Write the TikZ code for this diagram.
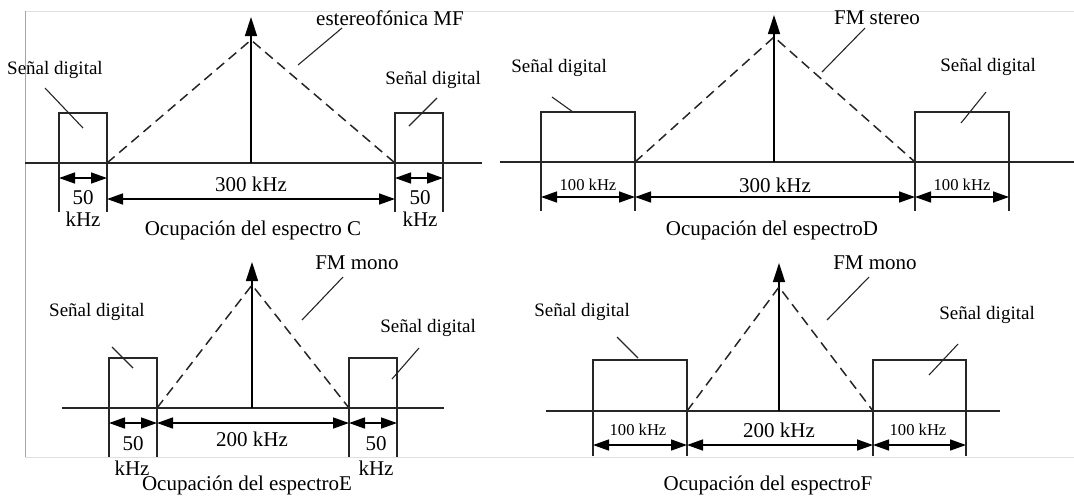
\documentclass[tikz,border=0pt]{standalone}
\usepackage{fontspec}
\setmainfont{Liberation Serif}
\usepackage{tikz}
\usetikzlibrary{arrows.meta,calc}

\tikzset{
  axisline/.style={line width=0.75pt, black!85},
  band/.style={line width=0.75pt, black!85},
  fmline/.style={line width=0.75pt, black!85, dash pattern=on 5pt off 3pt},
  dimarrow/.style={line width=0.75pt, {Triangle[length=8pt,width=5.5pt]}-{Triangle[length=8pt,width=5.5pt]}},
  uparrow/.style={line width=0.75pt, -{Triangle[length=9.5pt,width=6pt]}},
  lead/.style={line width=0.55pt, black!85},
  lbl/.style={font=\fontsize{10.5}{12}\selectfont, inner sep=0pt},
  siglbl/.style={font=\fontsize{9.5}{11}\selectfont, inner sep=0pt},
  smalllbl/.style={font=\fontsize{8.3}{10}\selectfont, inner sep=0pt},
  frameline/.style={line width=0.5pt},
}

\begin{document}
\begin{tikzpicture}[x=0.5pt,y=-0.5pt]
  \useasboundingbox (0,0) rectangle (1074,495);

  % faint frame of the scan
  \coordinate (F0) at (25,11);
  \coordinate (F1) at (1074,11);
  \coordinate (F2) at (25,457);
  \coordinate (F3) at (1074,457);
  \draw[frameline,gray!25] (F0) -- (F1);
  \draw[frameline,gray!25] (F2) -- (F3);
  \draw[frameline,gray!70] (F0) -- (F2);

  % espectro C
  \coordinate (C0) at (25,163);
  \coordinate (C1) at (482,163);
  \coordinate (Ca) at (59,163);
  \coordinate (Cb) at (107,163);
  \coordinate (Cc) at (395,163);
  \coordinate (Cd) at (443,163);
  \coordinate (Cm) at (251,163);
  \coordinate (Cpk) at (251,40);
  \coordinate (Ctip) at (251,17);
  \draw[axisline] (C0) -- (C1);
  \draw[band] (Ca |- 0,212) |- (Cb |- 0,113) -- (Cb |- 0,212);
  \draw[band] (Cc |- 0,212) |- (Cd |- 0,113) -- (Cd |- 0,212);
  \draw[uparrow] (Cm) -- (Ctip);
  \draw[fmline] (Cb) -- (Cpk) -- (Cc);
  \draw[dimarrow] (Ca |- 0,178) -- (Cb |- 0,178);
  \draw[dimarrow] (Cb |- 0,199) -- (Cc |- 0,199);
  \draw[dimarrow] (Cc |- 0,178) -- (Cd |- 0,178);
  \node[lbl] (C300) at (251,184) {300 kHz};
  \node[lbl] (C50a) at (83,198) {50};
  \node[lbl] (Ckza) at (83,219) {kHz};
  \node[lbl] (C50b) at (420,198) {50};
  \node[lbl] (Ckzb) at (420,219) {kHz};
  \node[lbl] (Ccap) at (253,230) {Ocupación del espectro C};
  \node[siglbl] (Csl) at (55,70) {Señal digital};
  \node[siglbl] (Csr) at (433,80) {Señal digital};
  \node[lbl] (Cfm) at (390,18) {estereofónica MF};
  \coordinate (Csl1) at (45,88);   \coordinate (Csl2) at (83,128);
  \coordinate (Csr1) at (437,98);  \coordinate (Csr2) at (409,126);
  \coordinate (Cfm1) at (342,28);  \coordinate (Cfm2) at (298,65);
  \draw[lead] (Csl1) -- (Csl2);
  \draw[lead] (Csr1) -- (Csr2);
  \draw[lead] (Cfm1) -- (Cfm2);

  % espectro D
  \coordinate (D0) at (500,162);
  \coordinate (D1) at (1074,162);
  \coordinate (Da) at (541,162);
  \coordinate (Db) at (635,162);
  \coordinate (Dc) at (915,162);
  \coordinate (Dd) at (1009,162);
  \coordinate (Dm) at (774,162);
  \coordinate (Dpk) at (774,37);
  \coordinate (Dtip) at (774,15);
  \draw[axisline] (D0) -- (D1);
  \draw[band] (Da |- 0,211) |- (Db |- 0,112) -- (Db |- 0,211);
  \draw[band] (Dc |- 0,211) |- (Dd |- 0,112) -- (Dd |- 0,211);
  \draw[uparrow] (Dm) -- (Dtip);
  \draw[fmline] (Db) -- (Dpk) -- (Dc);
  \draw[dimarrow] (Da |- 0,197) -- (Db |- 0,197);
  \draw[dimarrow] (Db |- 0,197) -- (Dc |- 0,197);
  \draw[dimarrow] (Dc |- 0,197) -- (Dd |- 0,197);
  \node[smalllbl] (D100a) at (588,185) {100 kHz};
  \node[lbl] (D300) at (775,185) {300 kHz};
  \node[smalllbl] (D100b) at (962,185) {100 kHz};
  \node[lbl] (Dcap) at (772,230) {Ocupación del espectroD};
  \node[siglbl] (Dsl) at (559,68) {Señal digital};
  \node[siglbl] (Dsr) at (988,67) {Señal digital};
  \node[lbl] (Dfm) at (877,18) {FM stereo};
  \coordinate (Dsl1) at (552,97);  \coordinate (Dsl2) at (573,112);
  \coordinate (Dsr1) at (986,92);  \coordinate (Dsr2) at (961,123);
  \coordinate (Dfm1) at (865,28);  \coordinate (Dfm2) at (822,72);
  \draw[lead] (Dsl1) -- (Dsl2);
  \draw[lead] (Dsr1) -- (Dsr2);
  \draw[lead] (Dfm1) -- (Dfm2);

  % espectro E
  \coordinate (E0) at (62,408);
  \coordinate (E1) at (444,408);
  \coordinate (Ea) at (109,408);
  \coordinate (Eb) at (157,408);
  \coordinate (Ec) at (349,408);
  \coordinate (Ed) at (397,408);
  \coordinate (Em) at (252,408);
  \coordinate (Epk) at (252,285);
  \coordinate (Etip) at (252,262);
  \draw[axisline] (E0) -- (E1);
  \draw[band] (Ea |- 0,457) |- (Eb |- 0,358) -- (Eb |- 0,457);
  \draw[band] (Ec |- 0,457) |- (Ed |- 0,358) -- (Ed |- 0,457);
  \draw[uparrow] (Em) -- (Etip);
  \draw[fmline] (Eb) -- (Epk) -- (Ec);
  \draw[dimarrow] (Ea |- 0,423) -- (Eb |- 0,423);
  \draw[dimarrow] (Eb |- 0,423) -- (Ec |- 0,423);
  \draw[dimarrow] (Ec |- 0,423) -- (Ed |- 0,423);
  \node[lbl] (E200) at (252,439) {200 kHz};
  \node[lbl] (E50a) at (133,444) {50};
  \node[lbl] (Ekza) at (132,468) {kHz};
  \node[lbl] (E50b) at (376,444) {50};
  \node[lbl] (Ekzb) at (376,468) {kHz};
  \node[lbl] (Ecap) at (247,485) {Ocupación del espectroE};
  \node[siglbl] (Esl) at (97,312) {Señal digital};
  \node[siglbl] (Esr) at (428,328) {Señal digital};
  \node[lbl] (Efm) at (357,263) {FM mono};
  \coordinate (Esl1) at (112,347); \coordinate (Esl2) at (133,368);
  \coordinate (Esr1) at (419,348); \coordinate (Esr2) at (392,379);
  \coordinate (Efm1) at (343,277); \coordinate (Efm2) at (302,320);
  \draw[lead] (Esl1) -- (Esl2);
  \draw[lead] (Esr1) -- (Esr2);
  \draw[lead] (Efm1) -- (Efm2);

  % espectro F
  \coordinate (G0) at (546,411);
  \coordinate (G1) at (1000,411);
  \coordinate (Ga) at (593,411);
  \coordinate (Gb) at (687,411);
  \coordinate (Gc) at (873,411);
  \coordinate (Gd) at (966,411);
  \coordinate (Gm) at (779,411);
  \coordinate (Gpk) at (779,287);
  \coordinate (Gtip) at (779,263);
  \draw[axisline] (G0) -- (G1);
  \draw[band] (Ga |- 0,456) |- (Gb |- 0,360) -- (Gb |- 0,456);
  \draw[band] (Gc |- 0,456) |- (Gd |- 0,360) -- (Gd |- 0,456);
  \draw[uparrow] (Gm) -- (Gtip);
  \draw[fmline] (Gb) -- (Gpk) -- (Gc);
  \draw[dimarrow] (Ga |- 0,445) -- (Gb |- 0,445);
  \draw[dimarrow] (Gb |- 0,445) -- (Gc |- 0,445);
  \draw[dimarrow] (Gc |- 0,445) -- (Gd |- 0,445);
  \node[smalllbl] (G100a) at (638,430) {100 kHz};
  \node[lbl] (G200) at (779,430) {200 kHz};
  \node[smalllbl] (G100b) at (918,430) {100 kHz};
  \node[lbl] (Gcap) at (768,485) {Ocupación del espectroF};
  \node[siglbl] (Gsl) at (582,312) {Señal digital};
  \node[siglbl] (Gsr) at (987,315) {Señal digital};
  \node[lbl] (Gfm) at (875,263) {FM mono};
  \coordinate (Gsl1) at (617,337); \coordinate (Gsl2) at (638,358);
  \coordinate (Gsr1) at (958,344); \coordinate (Gsr2) at (929,375);
  \coordinate (Gfm1) at (869,277); \coordinate (Gfm2) at (827,320);
  \draw[lead] (Gsl1) -- (Gsl2);
  \draw[lead] (Gsr1) -- (Gsr2);
  \draw[lead] (Gfm1) -- (Gfm2);
\end{tikzpicture}
\end{document}
